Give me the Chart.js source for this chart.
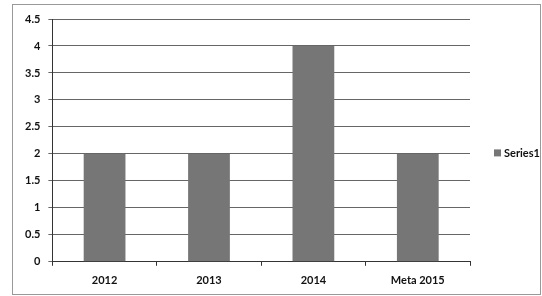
<!DOCTYPE html>
<html>
<head>
<meta charset="utf-8">
<script src="https://cdn.jsdelivr.net/npm/chart.js@4/dist/chart.umd.min.js"></script>
<style>
  html, body { margin: 0; padding: 0; background: #fff; }
  #wrap { width: 542px; height: 296px; position: relative; }
</style>
</head>
<body>
<div id="wrap"><canvas id="myChart" width="542" height="296"></canvas></div>
<script>
const categories = ['2012', '2013', '2014', 'Meta 2015'];
const series1 = [2, 2, 4, 2];
const yTicks = [0, 0.5, 1, 1.5, 2, 2.5, 3, 3.5, 4, 4.5];

const FONT = { family: 'Lato', size: 11, weight: 'bold' };

// frame around the whole chart + legend on the right
const frame = {
    id: 'frame',
    beforeDraw(chart) {
        const c = chart.ctx;
        c.save();
        c.fillStyle = '#fff';
        c.fillRect(0, 0, chart.width, chart.height);
        c.strokeStyle = '#999';
        c.lineWidth = 1;
        c.strokeRect(12.5, 4.5, chart.width - 14, chart.height - 6);
        c.restore();
    },
    afterDraw(chart) {
        const c = chart.ctx;
        const ds = chart.data.datasets[0];
        const a = chart.chartArea;
        const y = (a.top + a.bottom) / 2 + 13;
        c.save();
        c.fillStyle = ds.backgroundColor;
        c.fillRect(a.right + 24, y - 4, 7, 7);
        c.fillStyle = '#111';
        c.font = 'bold 11px Lato';
        c.textBaseline = 'middle';
        c.fillText(ds.label, a.right + 34, y);
        c.restore();
    }
};

const ctx = document.getElementById('myChart').getContext('2d');

new Chart(ctx, {
    type: 'bar',
    data: {
        labels: categories,
        datasets: [
            {
                label: 'Series1',
                data: series1,
                backgroundColor: '#767676',
                borderWidth: 0,
                barPercentage: 0.4,
                categoryPercentage: 1
            }
        ]
    },
    options: {
        responsive: false,
        animation: false,
        layout: { padding: { left: 17, top: 19, right: 72, bottom: 1 } },
        plugins: {
            legend: { display: false },
            tooltip: { enabled: false }
        },
        scales: {
            x: {
                grid: {
                    display: true,
                    drawOnChartArea: false,
                    offset: true,
                    tickLength: 4,
                    color: '#333'
                },
                border: { color: '#333' },
                ticks: {
                    color: '#111',
                    padding: 8,
                    font: FONT
                }
            },
            y: {
                min: 0,
                max: 4.5,
                afterBuildTicks(axis) {
                    axis.ticks = yTicks.map(v => ({ value: v }));
                },
                grid: {
                    color: '#666',
                    tickLength: 4
                },
                border: { color: '#333' },
                ticks: {
                    color: '#111',
                    padding: 8,
                    font: FONT,
                    callback: v => String(v)
                }
            }
        }
    },
    plugins: [frame]
});
</script>
</body>
</html>
